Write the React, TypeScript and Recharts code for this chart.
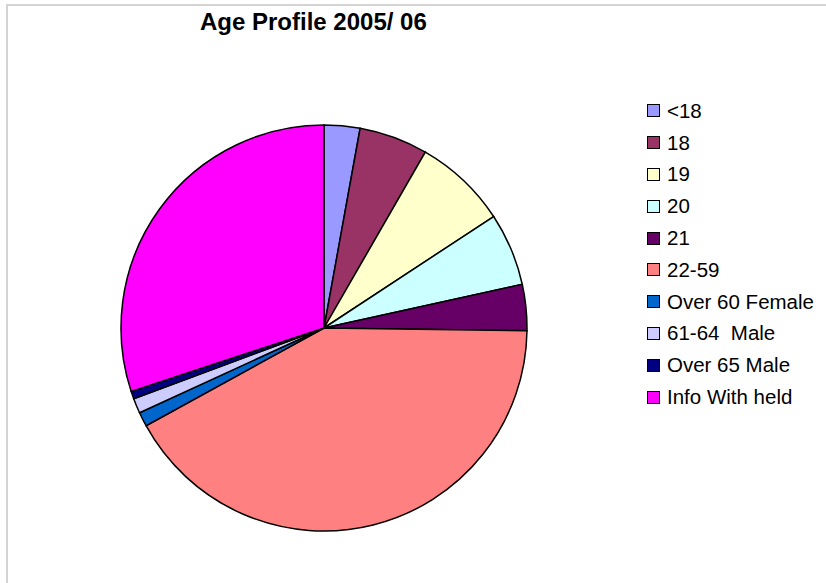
import { PieChart, Pie, Cell } from "recharts";

const labels = ["<18", "18", "19", "20", "21", "22-59", "Over 60 Female", "61-64  Male", "Over 65 Male", "Info With held"];
const values = [2.85, 5.47, 7.43, 5.8, 3.67, 41.8, 1.14, 1.19, 0.61, 30.06];
const colors = ["#9999FF", "#993366", "#FFFFCC", "#CCFFFF", "#660066", "#FF8080", "#0066CC", "#CCCCFF", "#000080", "#FF00FF"];

const data = labels.map((name, i) => ({ name, value: values[i] }));

function LegendBox() {
  return (
    <div
      style={{
        position: "absolute",
        left: 647,
        top: 95,
        fontFamily: "'Liberation Sans', Arial, sans-serif",
        fontSize: 20.5,
        color: "#000",
      }}
    >
      {labels.map((l, i) => (
        <div key={l} style={{ display: "flex", alignItems: "center", height: 31.8, whiteSpace: "pre" }}>
          <span
            style={{
              display: "inline-block",
              width: 11,
              height: 11,
              background: colors[i],
              border: "1px solid #000",
              marginRight: 7,
            }}
          />
          <span>{l}</span>
        </div>
      ))}
    </div>
  );
}

export default function App() {
  return (
    <div style={{ position: "fixed", left: 0, top: 0, width: 826, height: 583, background: "#fff", overflow: "hidden" }}>
      <div
        style={{
          position: "absolute",
          left: 6,
          top: 4,
          width: 830,
          height: 600,
          borderTop: "2px solid #d4d4d4",
          borderLeft: "2px solid #d4d4d4",
        }}
      />
      <div
        style={{
          position: "absolute",
          left: 200,
          top: 8,
          fontFamily: "'Liberation Sans', Arial, sans-serif",
          fontWeight: "bold",
          fontSize: 24,
          whiteSpace: "pre",
        }}
      >
        Age Profile 2005/ 06
      </div>
      <PieChart
        width={826}
        height={583}
        margin={{ top: 0, right: 0, bottom: 0, left: 0 }}
        style={{ position: "absolute", left: 0, top: 0 }}
      >
        <Pie
          data={data}
          dataKey="value"
          nameKey="name"
          cx={324}
          cy={328}
          outerRadius={203}
          startAngle={90}
          endAngle={-270}
          stroke="#000"
          strokeWidth={1.5}
          isAnimationActive={false}
        >
          {data.map((d, i) => (
            <Cell key={d.name} fill={colors[i]} />
          ))}
        </Pie>
      </PieChart>
      <LegendBox />
    </div>
  );
}
